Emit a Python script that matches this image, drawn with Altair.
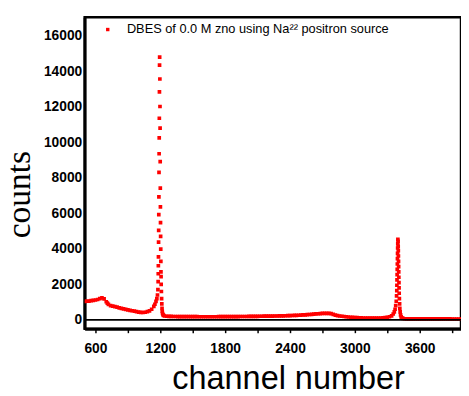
import altair as alt
import pandas as pd

# ---- data ----
channels = [
    500, 520, 540, 560, 580, 600, 620, 640, 660, 680, 700, 710, 720, 740, 760, 780,
    800, 820, 840, 860, 880, 900, 920, 940, 960, 980, 1000, 1020, 1040, 1060, 1080,
    1100, 1120, 1140, 1150, 1160, 1168, 1174, 1178,
    1180, 1181, 1182, 1183, 1184, 1185, 1186, 1187, 1188, 1189, 1190, 1191, 1192,
    1193, 1194, 1196, 1197, 1198, 1199, 1200, 1201, 1202, 1203, 1204, 1205, 1206,
    1207, 1208, 1210, 1212, 1214, 1216, 1218, 1221, 1225, 1230, 1240, 1260, 1280, 1300,
    1320, 1340, 1360, 1380, 1400, 1420, 1440, 1460, 1480, 1500, 1520, 1540, 1560,
    1580, 1600, 1620, 1640, 1660, 1680, 1700, 1720, 1740, 1760, 1780, 1800, 1820,
    1840, 1860, 1880, 1900, 1920, 1940, 1960, 1980, 2000, 2020, 2040, 2060, 2080,
    2100, 2120, 2140, 2160, 2180, 2200, 2220, 2240, 2260, 2280, 2300, 2320, 2340,
    2360, 2380, 2400, 2420, 2440, 2460, 2480, 2500, 2520, 2540, 2560, 2580, 2600,
    2620, 2640, 2660, 2680, 2700, 2720, 2740, 2760, 2780, 2800, 2820, 2840, 2860,
    2880, 2900, 2920, 2940, 2960, 2980, 3000, 3020, 3040, 3060, 3080, 3100, 3120,
    3140, 3160, 3180, 3200, 3220, 3240, 3260, 3280, 3300, 3320, 3340,
    3355, 3365, 3372, 3378, 3383, 3386, 3388, 3389, 3390, 3391, 3392, 3393, 3394,
    3395, 3396, 3397, 3398, 3400, 3401, 3402, 3403, 3404, 3405, 3406, 3407, 3408,
    3409, 3410, 3412, 3414, 3416, 3419, 3423, 3428, 3435, 3445, 3460, 3480,
    3500, 3520, 3540, 3560, 3580, 3600, 3620, 3640, 3660, 3680, 3700, 3720, 3740,
    3760, 3780, 3800, 3820, 3840, 3860, 3880, 3900, 3920, 3940, 3960, 3980,
]
counts = [
    1040, 1050, 1060, 1080, 1100, 1120, 1150, 1200, 1240, 1180, 1020, 940, 870, 800, 770, 750,
    715, 680, 650, 620, 595, 565, 540, 515, 490, 465, 440, 420, 415, 430, 460,
    510, 600, 760, 880, 1040, 1200, 1400, 1700,
    2160, 2600, 3050, 3550, 4380, 5040, 5930, 6930, 8310, 9360, 10250, 11360, 12850,
    14350, 14800, 13570, 12020, 10800, 8920, 7420, 6370, 5480, 4700, 3990, 3300, 2700,
    2440, 2000, 1600, 1200, 900, 650, 480, 360, 290, 250, 220, 205, 200, 195,
    190, 190, 188, 186, 185, 184, 183, 182, 181, 180, 180, 179, 178,
    178, 177, 177, 177, 177, 177, 178, 178, 179, 180, 181, 182, 183,
    184, 185, 186, 187, 188, 189, 190, 191, 192, 194, 196, 198, 200,
    202, 204, 206, 208, 210, 212, 214, 216, 218, 220, 222, 225, 228,
    232, 236, 240, 245, 250, 256, 262, 270, 278, 286, 295, 305, 315,
    325, 335, 345, 355, 362, 368, 370, 366, 350, 310, 270, 240, 220,
    205, 190, 175, 162, 150, 140, 130, 122, 116, 110, 106, 102, 100,
    98, 97, 97, 98, 100, 105, 112, 125, 145, 175, 230,
    330, 450, 600, 800, 1050, 1350, 1650, 1950, 2250, 2550, 2850, 3150, 3450,
    3750, 4050, 4300, 4540, 4420, 4150, 3900, 3600, 3300, 3000, 2700, 2400, 2100,
    1800, 1500, 1200, 900, 650, 450, 280, 170, 110, 80, 65, 60,
    60, 60, 59, 59, 58, 58, 57, 57, 56, 56, 55, 55, 54,
    54, 54, 53, 53, 52, 52, 52, 51, 51, 50, 50, 50,
]
assert len(channels) == len(counts)

series_label = "DBES of 0.0 M zno using Na\u00b2\u00b2 positron source"
x_ticks = [600, 900, 1200, 1500, 1800, 2100, 2400, 2700, 3000, 3300, 3600, 3900]
y_ticks = [0, 2000, 4000, 6000, 8000, 10000, 12000, 14000, 16000]
x_domain = [500, 3982]
y_domain = [-500, 17050]
zero_line = [0]

df = pd.DataFrame({"channel": channels, "counts": counts, "series": series_label})

x_scale = alt.Scale(domain=x_domain, nice=False, zero=False)
y_scale = alt.Scale(domain=y_domain, nice=False, zero=False)

x_axis = alt.Axis(
    title="channel number",
    values=x_ticks,
    format="d",
    labelExpr="datum.value % 600 == 0 ? datum.label : ''",
    grid=False,
    domainColor="black",
    domainWidth=3,
    ticks=True,
    tickColor="black",
    tickWidth=1.5,
    tickSize=4,
    labelFont="Liberation Sans",
    labelFontSize=14,
    labelFontWeight="bold",
    labelColor="black",
    labelPadding=9,
    labelFlush=False,
    labelOverlap=False,
    titleFont="Liberation Sans",
    titleFontSize=33,
    titleFontWeight="normal",
    titleColor="black",
    titleX=207,
    titleY=61,
    titleAlign="center",
    titleBaseline="alphabetic",
)
y_axis = alt.Axis(
    title="counts",
    values=y_ticks,
    format="d",
    grid=False,
    domainColor="black",
    domainWidth=3,
    ticks=False,
    labelFont="Liberation Sans",
    labelFontSize=14,
    labelFontWeight="bold",
    labelColor="black",
    labelPadding=3,
    labelOverlap=False,
    titleFont="Liberation Serif",
    titleFontSize=34,
    titleFontWeight="normal",
    titleColor="black",
    titleAngle=270,
    titleX=-56,
    titleY=180,
    titleAlign="center",
    titleBaseline="alphabetic",
)

points = alt.Chart(df).mark_square(size=14, opacity=1, clip=True).encode(
    x=alt.X("channel:Q", scale=x_scale, axis=x_axis),
    y=alt.Y("counts:Q", scale=y_scale, axis=y_axis),
    color=alt.Color(
        "series:N",
        scale=alt.Scale(domain=[series_label], range=["#ff0000"]),
        legend=alt.Legend(
            orient="none",
            legendX=17,
            legendY=6,
            title=None,
            symbolType="square",
            symbolSize=12,
            symbolStrokeWidth=0,
            labelFont="Liberation Sans",
            labelFontSize=13,
            labelColor="black",
            labelOffset=13,
            labelLimit=500,
            padding=0,
        ),
    ),
)

zero_rule = alt.Chart(pd.DataFrame({"counts": zero_line})).mark_rule(
    color="black", strokeWidth=2
).encode(y=alt.Y("counts:Q", scale=y_scale, axis=y_axis))

chart = (
    alt.layer(points, zero_rule)
    .properties(
        width=383,
        height=317,
        autosize=alt.AutoSizeParams(type="none"),
        padding={"left": 78, "top": 6, "right": 0, "bottom": 64},
        background="white",
    )
    .configure_view(stroke="black", strokeWidth=2.5)
)

chart.save("out.html", embed_options={"renderer": "svg", "actions": False})
